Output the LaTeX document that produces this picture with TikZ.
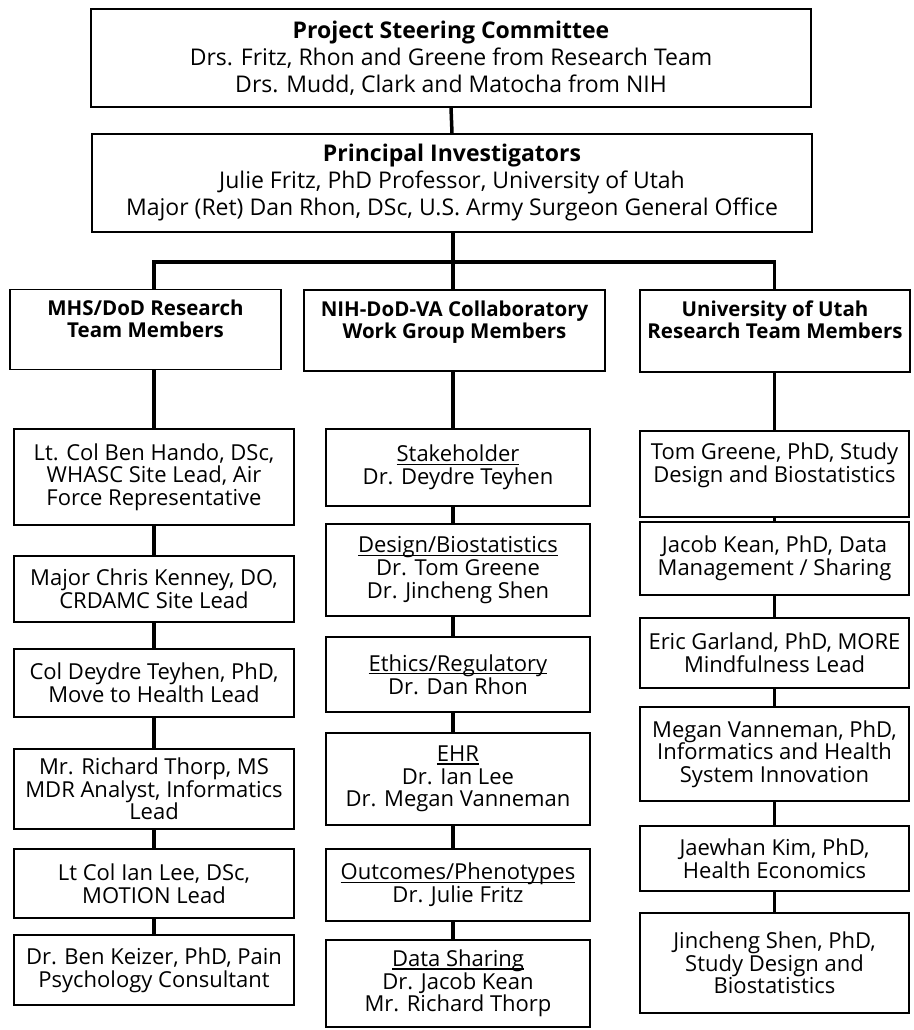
\documentclass[tikz,border=0pt]{standalone}
\usepackage{fontspec}
\setmainfont{Open Sans}
\usepackage{tikz}
\usetikzlibrary{shapes, positioning}
\tikzstyle{block} = [draw, fill=white, rectangle, line width=1.5pt, align=center, inner sep=1pt, font={\fontsize{22}{22.7}\selectfont}]
\tikzstyle{boss} = [block, minimum width=720pt, minimum height=98pt, font={\fontsize{23}{27}\selectfont}]
\tikzstyle{group} = [block, minimum height=80pt, font={\fontsize{20.5}{22}\selectfont\bfseries}]
\tikzstyle{link} = [line width=3.5pt]
\newsavebox{\topicbox}
\newcommand{\topic}[1]{\sbox{\topicbox}{#1}\usebox{\topicbox}\llap{\rule[-3pt]{\wd\topicbox}{1.2pt}}}

\begin{document}
\begin{tikzpicture}[x=1pt, y=-1pt]
	\useasboundingbox (0,0) rectangle (913,1030);
	\node [boss] (psc) at (451,58) {{\bfseries Project Steering Committee}\\ Drs. Fritz, Rhon and Greene from Research Team\\ Drs. Mudd, Clark and Matocha from NIH};
	\node [boss] (pi) at (452,183) {{\bfseries Principal Investigators}\\ Julie Fritz, PhD Professor, University of Utah\\ Major (Ret) Dan Rhon, DSc, U.S. Army Surgeon General Office};
	\coordinate (bar) at (453,262);
	
	\node [group, minimum width=271pt] (mhs) at (145.5,329.5) {MHS/DoD Research\\ Team Members\\ \mbox{}};
	\node [group, minimum width=301pt, minimum height=81pt] (nih) at (454.5,330.5) {NIH-DoD-VA Collaboratory\\ Work Group Members\\ \mbox{}};
	\node [group, minimum width=270pt, minimum height=82pt] (utah) at (775,331) {University of Utah\\ Research Team Members\\ \mbox{}};
	
	% MHS/DoD column
	\node [block, minimum width=280pt, minimum height=96pt] (mhs1) at (154,477) {Lt. Col Ben Hando, DSc,\\ WHASC Site Lead, Air\\ Force Representative};
	\node [block, below of=mhs1, node distance=112pt, minimum width=280pt, minimum height=66pt] (mhs2) {Major Chris Kenney, DO,\\ CRDAMC Site Lead};
	\node [block, below of=mhs2, node distance=94pt, minimum width=280pt, minimum height=68pt] (mhs3) {Col Deydre Teyhen, PhD,\\ Move to Health Lead};
	\node [block, below of=mhs3, node distance=106pt, minimum width=280pt, minimum height=80pt] (mhs4) {Mr. Richard Thorp, MS\\ MDR Analyst, Informatics\\ Lead};
	\node [block, below of=mhs4, node distance=94.5pt, minimum width=280pt, minimum height=69pt] (mhs5) {Lt Col Ian Lee, DSc,\\ MOTION Lead};
	\node [block, below of=mhs5, node distance=86.5pt, minimum width=280pt, minimum height=70pt] (mhs6) {Dr. Ben Keizer, PhD, Pain\\ Psychology Consultant};
	
	% NIH-DoD-VA column
	\node [block, minimum width=264pt, minimum height=77pt] (nih1) at (458,467.5) {\topic{Stakeholder}\\ Dr. Deydre Teyhen};
	\node [block, below of=nih1, node distance=102.5pt, minimum width=264pt, minimum height=92pt] (nih2) {\topic{Design/Biostatistics}\\ Dr. Tom Greene\\ Dr. Jincheng Shen};
	\node [block, below of=nih2, node distance=104.5pt, minimum width=264pt, minimum height=75pt] (nih3) {\topic{Ethics/Regulatory}\\ Dr. Dan Rhon};
	\node [block, below of=nih3, node distance=104.5pt, minimum width=264pt, minimum height=92pt] (nih4) {\topic{EHR}\\ Dr. Ian Lee\\ Dr. Megan Vanneman};
	\node [block, below of=nih4, node distance=106pt, minimum width=264pt, minimum height=72pt] (nih5) {\topic{Outcomes/Phenotypes}\\ Dr. Julie Fritz};
	\node [block, below of=nih5, node distance=98.5pt, minimum width=264pt, minimum height=87pt] (nih6) {\topic{Data Sharing}\\ Dr. Jacob Kean\\ Mr. Richard Thorp};
	
	% University of Utah column
	\node [block, minimum width=269pt, minimum height=86pt] (utah1) at (774.5,474) {Tom Greene, PhD, Study\\ Design and Biostatistics\\ \mbox{}};
	\node [block, below of=utah1, node distance=84.5pt, minimum width=269pt, minimum height=73pt] (utah2) {Jacob Kean, PhD, Data\\ Management / Sharing};
	\node [block, below of=utah2, node distance=94.5pt, minimum width=269pt, minimum height=70pt] (utah3) {Eric Garland, PhD, MORE\\ Mindfulness Lead};
	\node [block, below of=utah3, node distance=101pt, minimum width=269pt, minimum height=94pt] (utah4) {Megan Vanneman, PhD,\\ Informatics and Health\\ System Innovation};
	\node [block, below of=utah4, node distance=104.5pt, minimum width=269pt, minimum height=65pt] (utah5) {Jaewhan Kim, PhD,\\ Health Economics};
	\node [block, below of=utah5, node distance=104.5pt, minimum width=269pt, minimum height=100pt] (utah6) {Jincheng Shen, PhD,\\ Study Design and\\ Biostatistics};
	
	\draw[link] (psc.south) -- (pi.north);
	\draw[link] (pi.south -| bar) -- (bar);
	\draw[link] (mhs.north -| mhs1) |- (bar) -| (utah.north -| utah1);
	\draw[link] (bar) -- (nih.north -| bar);
	\draw[link] (mhs.south -| mhs1) -- (mhs1.north);
	\draw[link] (nih.south -| bar) -- (nih1.north -| bar);
	\draw[link] (utah.south -| utah1) -- (utah1.north);
	\foreach \i/\j in {1/2, 2/3, 3/4, 4/5, 5/6} {
		\draw[link] (mhs\i.south) -- (mhs\j.north);
		\draw[link] (nih\i.south -| bar) -- (nih\j.north -| bar);
		\draw[link] (utah\i.south) -- (utah\j.north);
	}
\end{tikzpicture}
\end{document}
